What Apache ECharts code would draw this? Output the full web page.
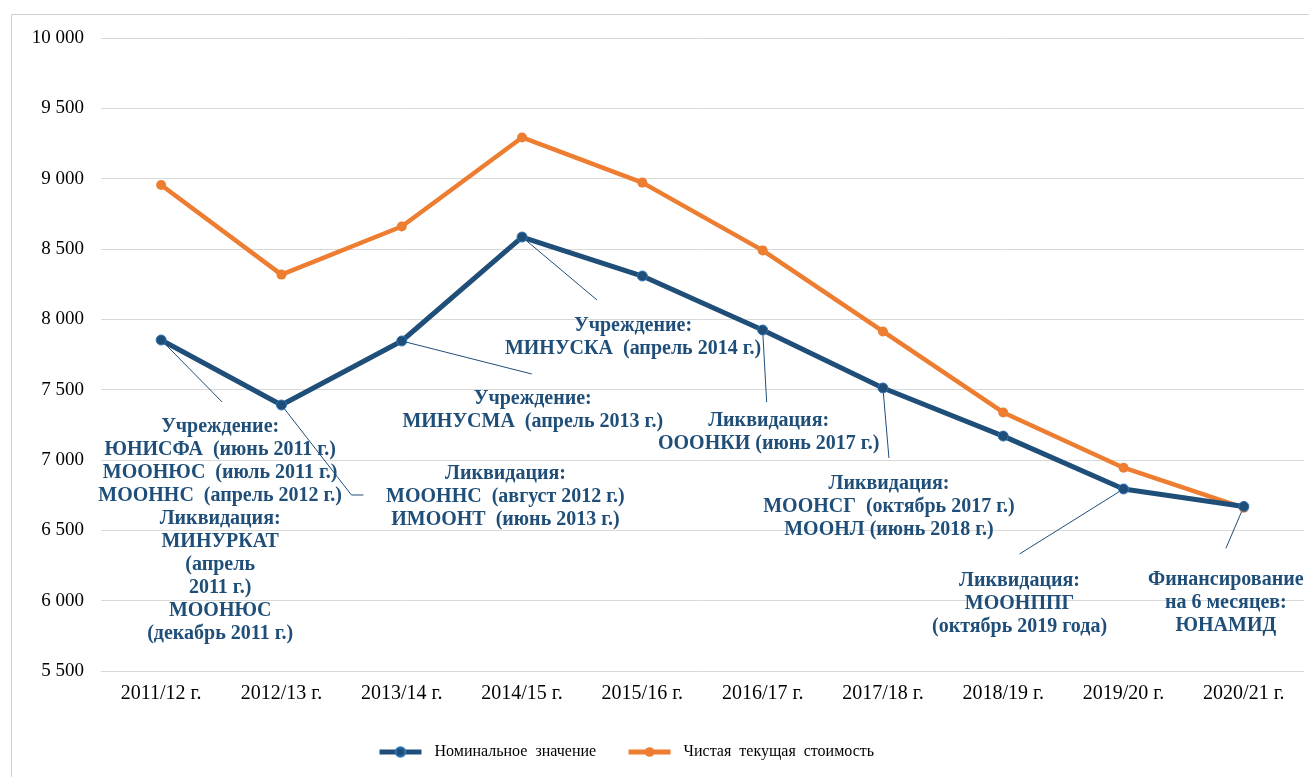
<!DOCTYPE html>
<html><head><meta charset="utf-8">
<script src="https://cdn.jsdelivr.net/npm/echarts@6/dist/echarts.min.js"></script>
<style>html,body{margin:0;padding:0;background:#fff}#c{width:1309px;height:777px}</style>
</head><body><div id="c"></div>
<script>
const categories = ['2011/12 г.','2012/13 г.','2013/14 г.','2014/15 г.','2015/16 г.','2016/17 г.','2017/18 г.','2018/19 г.','2019/20 г.','2020/21 г.'];
const nominal = [7853, 7391, 7846, 8585, 8308, 7924, 7512, 7170, 6794, 6670];
const npv = [8955, 8318, 8660, 9293, 8972, 8490, 7914, 7338, 6945, 6660];
const seriesNames = ['Номинальное  значение', 'Чистая  текущая  стоимость'];
const annotations = [
  'Учреждение:\nЮНИСФА  (июнь 2011 г.)\nМООНЮС  (июль 2011 г.)\nМООННС  (апрель 2012 г.)\nЛиквидация:\nМИНУРКАТ\n(апрель\n2011 г.)\nМООНЮС\n(декабрь 2011 г.)',
  'Ликвидация:\nМООННС  (август 2012 г.)\nИМООНТ  (июнь 2013 г.)',
  'Учреждение:\nМИНУСМА  (апрель 2013 г.)',
  'Учреждение:\nМИНУСКА  (апрель 2014 г.)',
  '',
  'Ликвидация:\nОООНКИ (июнь 2017 г.)',
  'Ликвидация:\nМООНСГ  (октябрь 2017 г.)\nМООНЛ (июнь 2018 г.)',
  '',
  'Ликвидация:\nМООНППГ\n(октябрь 2019 года)',
  'Финансирование\nна 6 месяцев:\nЮНАМИД'
];
// layout: label centre offset from point, and leader line path offsets
const labelOffsets = [[59,190],[224,92],[131,69],[111,100],null,[6,102],[6,119],null,[-104,115],[-18,96]];
const leaderPaths = [[[61,62]],[[70,90],[82,90]],[[130,33]],[[75,63]],null,[[4,72]],[[6,70]],null,[[-104,65]],[[-18,42]]];

const BLUE = '#1F4E79', ORANGE = '#ED7D31', TXT = '#1F4E79';
const chart = echarts.init(document.getElementById('c'));
const nominalData = nominal.map((v, i) => ({
  value: v,
  label: annotations[i] ? { show: true, formatter: annotations[i] } : { show: false }
}));
chart.setOption({
  animation: false,
  grid: { left: 101, right: 5, top: 38, bottom: 106 },
  legend: {
    bottom: 12, left: 372, itemWidth: 42, itemHeight: 12, itemGap: 30,
    textStyle: { fontFamily: 'Liberation Serif', fontSize: 16, color: '#000', padding: [0, 0, 0, 8] },
    lineStyle: { width: 5 },
    data: seriesNames
  },
  xAxis: {
    type: 'category', data: categories, boundaryGap: true,
    axisLine: { lineStyle: { color: '#d9d9d9' } }, axisTick: { show: false },
    axisLabel: { fontFamily: 'Liberation Serif', fontSize: 20, color: '#000', margin: 13 }
  },
  yAxis: {
    type: 'value', min: 5500, max: 10000, interval: 500,
    axisLine: { show: false }, axisTick: { show: false },
    splitLine: { lineStyle: { color: '#d9d9d9', width: 1 } },
    axisLabel: { fontFamily: 'Liberation Serif', fontSize: 19, color: '#000', margin: 17,
      formatter: v => String(v).replace(/\B(?=(\d{3})+(?!\d))/g, ' ') }
  },
  series: [
    {
      name: seriesNames[1], type: 'line', data: npv, z: 2,
      symbol: 'circle', symbolSize: 10,
      lineStyle: { color: ORANGE, width: 4.5 }, itemStyle: { color: ORANGE }
    },
    {
      name: seriesNames[0], type: 'line', data: nominalData, z: 3,
      symbol: 'circle', symbolSize: 10,
      lineStyle: { color: BLUE, width: 5 }, itemStyle: { color: BLUE, borderColor: '#2E75B6', borderWidth: 1 },
      label: { position: 'inside', align: 'center', verticalAlign: 'middle',
        fontFamily: 'Liberation Serif', fontWeight: 'bold', fontSize: 20, lineHeight: 23, color: TXT },
      labelLayout: function (p) {
        const off = labelOffsets[p.dataIndex];
        if (!off) return {};
        const cx = p.rect.x + p.rect.width / 2, cy = p.rect.y + p.rect.height / 2;
        return { x: cx + off[0], y: cy + off[1] - p.labelRect.height / 2, align: 'center', verticalAlign: 'top' };
      }
    }
  ]
});
// leader lines anchored to data points via the chart's own scales
const lines = [{ type: 'rect', left: 9, top: 12, shape: { width: 1400, height: 800 }, style: { fill: 'none', stroke: '#d0d0d0', lineWidth: 1 }, silent: true, z: -1 }];
nominal.forEach((v, i) => {
  if (!leaderPaths[i]) return;
  const p = chart.convertToPixel({ seriesIndex: 1 }, [i, v]);
  const pts = [p].concat(leaderPaths[i].map(d => [p[0] + d[0], p[1] + d[1]]));
  lines.push({ type: 'polyline', shape: { points: pts }, style: { stroke: BLUE, lineWidth: 1, fill: 'none' }, silent: true, z: 1 });
});
chart.setOption({ graphic: lines });
</script></body></html>
